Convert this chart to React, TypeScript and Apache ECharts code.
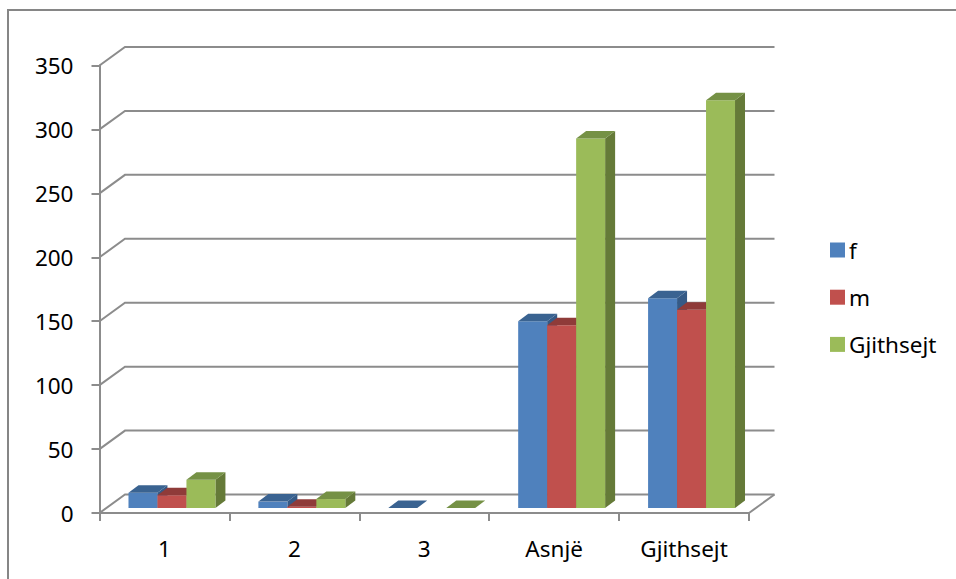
import React, { useEffect, useRef } from "react";
import * as echarts from "echarts";

const categories = ["1", "2", "3", "Asnjë", "Gjithsejt"];
const seriesNames = ["f", "m", "Gjithsejt"];
const fValues = [12, 5, 0, 146, 164];
const mValues = [10, 1, null, 143, 155];
const totalValues = [22, 7, 0, 289, 319];
const yTicks = [0, 50, 100, 150, 200, 250, 300, 350];

const FONT = "'Noto Sans', 'Open Sans', sans-serif";
const FONT_SIZE = 22.5;
const LINE = "#8c8c8c";
const FRONT = ["#4F81BD", "#C0504D", "#9BBB59"];
const TOP = ["#3A6391", "#8F3B39", "#759145"];
const SIDE = ["#355A86", "#7E3432", "#657A38"];

const DEPTH_X = 10;
const DEPTH_Y = 7.5;
const WALL_X = 25.5;
const WALL_Y = 18.5;
const BASE_X = 7.5;
const BASE_Y = 5;
const BAR_RATIO = 29 / 130;

function barSeries(name: string, values: (number | null)[], idx: number) {
  return {
    name,
    type: "custom",
    itemStyle: { color: FRONT[idx] },
    z: 3 + idx,
    data: values.map((v, i) => [i, v]),
    renderItem: (_p: any, api: any) => {
      const v = api.value(1);
      if (v === null || v === undefined || isNaN(v)) return null;
      const cat = api.value(0);
      const top = api.coord([cat, v]);
      const bottom = api.coord([cat, 0]);
      const w = api.size([1, 0])[0] * BAR_RATIO;
      const x0 = top[0] + BASE_X + (idx - 1.5) * w;
      const x1 = x0 + w;
      const yT = top[1] - BASE_Y;
      const yB = bottom[1] - BASE_Y;
      const children: any[] = [];
      if (yB - yT > 0.01) {
        children.push({
          type: "polygon",
          shape: { points: [[x1, yT], [x1 + DEPTH_X, yT - DEPTH_Y], [x1 + DEPTH_X, yB - DEPTH_Y], [x1, yB]] },
          style: { fill: SIDE[idx] },
        });
        children.push({
          type: "rect",
          shape: { x: x0, y: yT, width: w, height: yB - yT },
          style: { fill: FRONT[idx] },
        });
      }
      children.push({
        type: "polygon",
        shape: { points: [[x0, yT], [x1, yT], [x1 + DEPTH_X, yT - DEPTH_Y], [x0 + DEPTH_X, yT - DEPTH_Y]] },
        style: { fill: TOP[idx] },
      });
      return { type: "group", children };
    },
  };
}

export default function App() {
  const ref = useRef<HTMLDivElement>(null);
  useEffect(() => {
    const chart = echarts.init(ref.current!, undefined, { renderer: "svg" });
    chart.setOption({
      animation: false,
      backgroundColor: "#ffffff",
      textStyle: { fontFamily: FONT },
      graphic: [
        {
          type: "rect",
          silent: true,
          shape: { x: 8, y: 10, width: 960, height: 600 },
          style: { fill: "none", stroke: "#868686", lineWidth: 2 },
        },
      ],
      grid: { left: 99.5, right: 207, top: 65.5, bottom: 66 },
      legend: {
        data: seriesNames,
        orient: "vertical",
        left: 825,
        top: 233.5,
        itemWidth: 15,
        itemHeight: 15,
        itemGap: 24.2,
        icon: "rect",
        selectedMode: false,
        textStyle: { fontFamily: FONT, fontSize: FONT_SIZE, color: "#000", padding: [0, 0, 0, -1] },
      },
      xAxis: {
        type: "category",
        data: categories,
        axisLine: { onZero: false, lineStyle: { color: LINE, width: 2 } },
        axisTick: { show: true, length: 8, lineStyle: { color: LINE, width: 2 } },
        axisLabel: { fontFamily: FONT, fontSize: FONT_SIZE, color: "#000", margin: 24 },
        splitLine: { show: false },
      },
      yAxis: {
        type: "value",
        min: 0,
        max: 350,
        interval: 50,
        axisLine: { show: true, lineStyle: { color: LINE, width: 2 } },
        axisTick: { show: true, length: 8, lineStyle: { color: LINE, width: 2 } },
        axisLabel: { fontFamily: FONT, fontSize: FONT_SIZE, color: "#000", margin: 26 },
        splitLine: { show: false },
      },
      series: [
        {
          name: "wall",
          type: "custom",
          z: 1,
          silent: true,
          data: yTicks.map((v) => [0, v]),
          renderItem: (_p: any, api: any) => {
            const v = api.value(1);
            const half = api.size([1, 0])[0] / 2;
            const a = api.coord([0, v]);
            const b = api.coord([categories.length - 1, v]);
            const xL = a[0] - half;
            const xR = b[0] + half;
            const children: any[] = [
              {
                type: "polyline",
                shape: { points: [[xL, a[1]], [xL + WALL_X, a[1] - WALL_Y], [xR + WALL_X, a[1] - WALL_Y]] },
                style: { fill: "none", stroke: LINE, lineWidth: 2 },
              },
            ];
            if (v === 0) {
              children.push({
                type: "line",
                shape: { x1: xR, y1: a[1], x2: xR + WALL_X, y2: a[1] - WALL_Y },
                style: { stroke: LINE, lineWidth: 2 },
              });
            }
            return { type: "group", children };
          },
        },
        barSeries(seriesNames[0], fValues, 0),
        barSeries(seriesNames[1], mValues, 1),
        barSeries(seriesNames[2], totalValues, 2),
      ],
    });
    return () => chart.dispose();
  }, []);
  return <div ref={ref} style={{ position: "fixed", left: 0, top: 0, width: 956, height: 579 }} />;
}
